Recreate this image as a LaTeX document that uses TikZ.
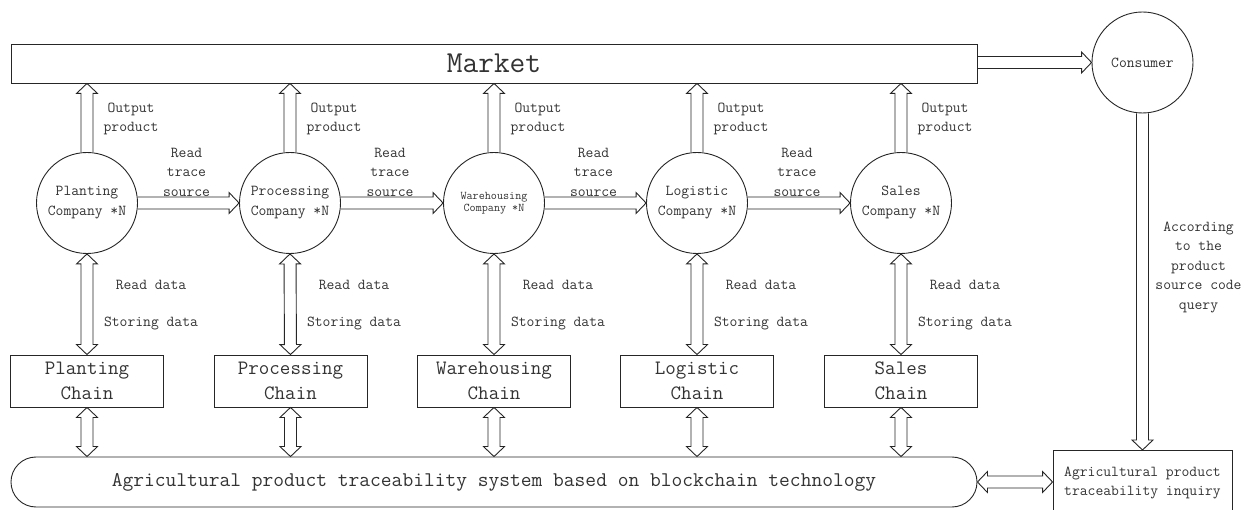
\documentclass[tikz,border=0pt]{standalone}
\renewcommand{\familydefault}{\ttdefault}
\usetikzlibrary{calc}
\def\aw{6bp}\def\ah{10.5bp}\def\al{10bp}
\tikzset{
 ln/.style={draw=black!85, line width=0.9bp},
 sm/.style={font=\fontsize{15.2bp}{19.5bp}\selectfont, align=center, inner sep=0pt},
 co/.style={ln, circle, minimum size=101bp, inner sep=0pt, align=center, font=\fontsize{15.2bp}{20bp}\selectfont},
 ch/.style={ln, minimum width=153bp, minimum height=52bp, inner sep=0pt, align=center, font=\fontsize{20.4bp}{25bp}\selectfont},
 hollow/.style={ln, to path={
   ($(\tikztostart)!\aw!90:(\tikztotarget)$)
   -- ($(\tikztotarget)!\al!(\tikztostart)!\aw!-90:(\tikztostart)$)
   -- ($(\tikztotarget)!\al!(\tikztostart)!\ah!-90:(\tikztostart)$)
   -- (\tikztotarget)
   -- ($(\tikztotarget)!\al!(\tikztostart)!\ah!90:(\tikztostart)$)
   -- ($(\tikztotarget)!\al!(\tikztostart)!\aw!90:(\tikztostart)$)
   -- ($(\tikztostart)!\aw!-90:(\tikztotarget)$)
 }},
 hollowboth/.style={ln, to path={
   (\tikztostart)
   -- ($(\tikztostart)!\al!(\tikztotarget)!\ah!90:(\tikztotarget)$)
   -- ($(\tikztostart)!\al!(\tikztotarget)!\aw!90:(\tikztotarget)$)
   -- ($(\tikztotarget)!\al!(\tikztostart)!\aw!-90:(\tikztostart)$)
   -- ($(\tikztotarget)!\al!(\tikztostart)!\ah!-90:(\tikztostart)$)
   -- (\tikztotarget)
   -- ($(\tikztotarget)!\al!(\tikztostart)!\ah!90:(\tikztostart)$)
   -- ($(\tikztotarget)!\al!(\tikztostart)!\aw!90:(\tikztostart)$)
   -- ($(\tikztostart)!\al!(\tikztotarget)!\aw!-90:(\tikztotarget)$)
   -- ($(\tikztostart)!\al!(\tikztotarget)!\ah!-90:(\tikztotarget)$)
   -- cycle
 }},
}
\begin{document}
\begin{tikzpicture}[x=1bp,y=-1bp, every node/.append style={text=black!80}]
\useasboundingbox (0,0) rectangle (1252,510);
\clip (0,0) rectangle (1252,510);
\node[ln, minimum width=966bp, minimum height=39bp, inner sep=0pt, font=\fontsize{30.5bp}{32bp}\selectfont] (market) at (494,63.5) {Market};
\node[co] (cons) at (1142.5,62.5) {Consumer};
\node[co] (c1) at (87,203) {Planting\\Company *N};
\node[co] (c2) at (290,203) {Processing\\Company *N};
\node[co, font=\fontsize{11.8bp}{12.5bp}\selectfont] (c3) at (494,203) {Warehousing\\Company *N};
\node[co] (c4) at (697,203) {Logistic\\Company *N};
\node[co] (c5) at (901,203) {Sales\\Company *N};
\node[ch] (k1) at (87,381) {Planting\\Chain};
\node[ch] (k2) at (290.5,381) {Processing\\Chain};
\node[ch] (k3) at (494,381) {Warehousing\\Chain};
\node[ch] (k4) at (697,381) {Logistic\\Chain};
\node[ch] (k5) at (901,381) {Sales\\Chain};
\node[ln, rounded corners=25bp, minimum width=966bp, minimum height=50bp, inner sep=0pt, font=\fontsize{20.9bp}{22bp}\selectfont] (sys) at (494,482) {Agricultural product traceability system based on blockchain technology};
\node[ln, minimum width=179bp, minimum height=75bp, inner sep=0pt, anchor=north] (inq) at (1142.5,450) {};
\node[sm] (inqt) at (1142.5,483) {Agricultural product\\traceability inquiry};
\node[sm] (acc) at (1198.5,267) {According\\to the\\product\\source code\\query};
\foreach \x/\i in {87/1,290/2,494/3,697/4,901/5}{
 \node[sm] (op\i) at (\x+44,119) {Output\\product};
 \node[sm] (rd\i) at (\x+64,285) {Read data};
 \node[sm] (sd\i) at (\x+64,324) {Storing data};
 \coordinate (m\i) at (c\i.north |- market.south);
 \draw[hollow] (c\i.north) to (m\i);
 \draw[hollowboth] (c\i.south) to (k\i.north);
 \coordinate (s\i) at (k\i.south |- sys.north);
 \draw[hollowboth] (k\i.south) to (s\i);
}
\foreach \i/\j in {1/2,2/3,3/4,4/5}{
 \draw[hollow] (c\i.east) to (c\j.west);
 \node[sm] (rt\i) at ($(c\i.east)!0.5!(c\j.west)+(-2,-31)$) {Read\\trace\\source};
}
\coordinate (mc) at (market.east |- cons.west);
\draw[hollow] (mc) to (cons.west);
\draw[hollow] (cons.south) to (inq.north);
\coordinate (iw) at (sys.east -| inq.west);
\draw[hollowboth] (sys.east) to (iw);
\end{tikzpicture}
\end{document}
